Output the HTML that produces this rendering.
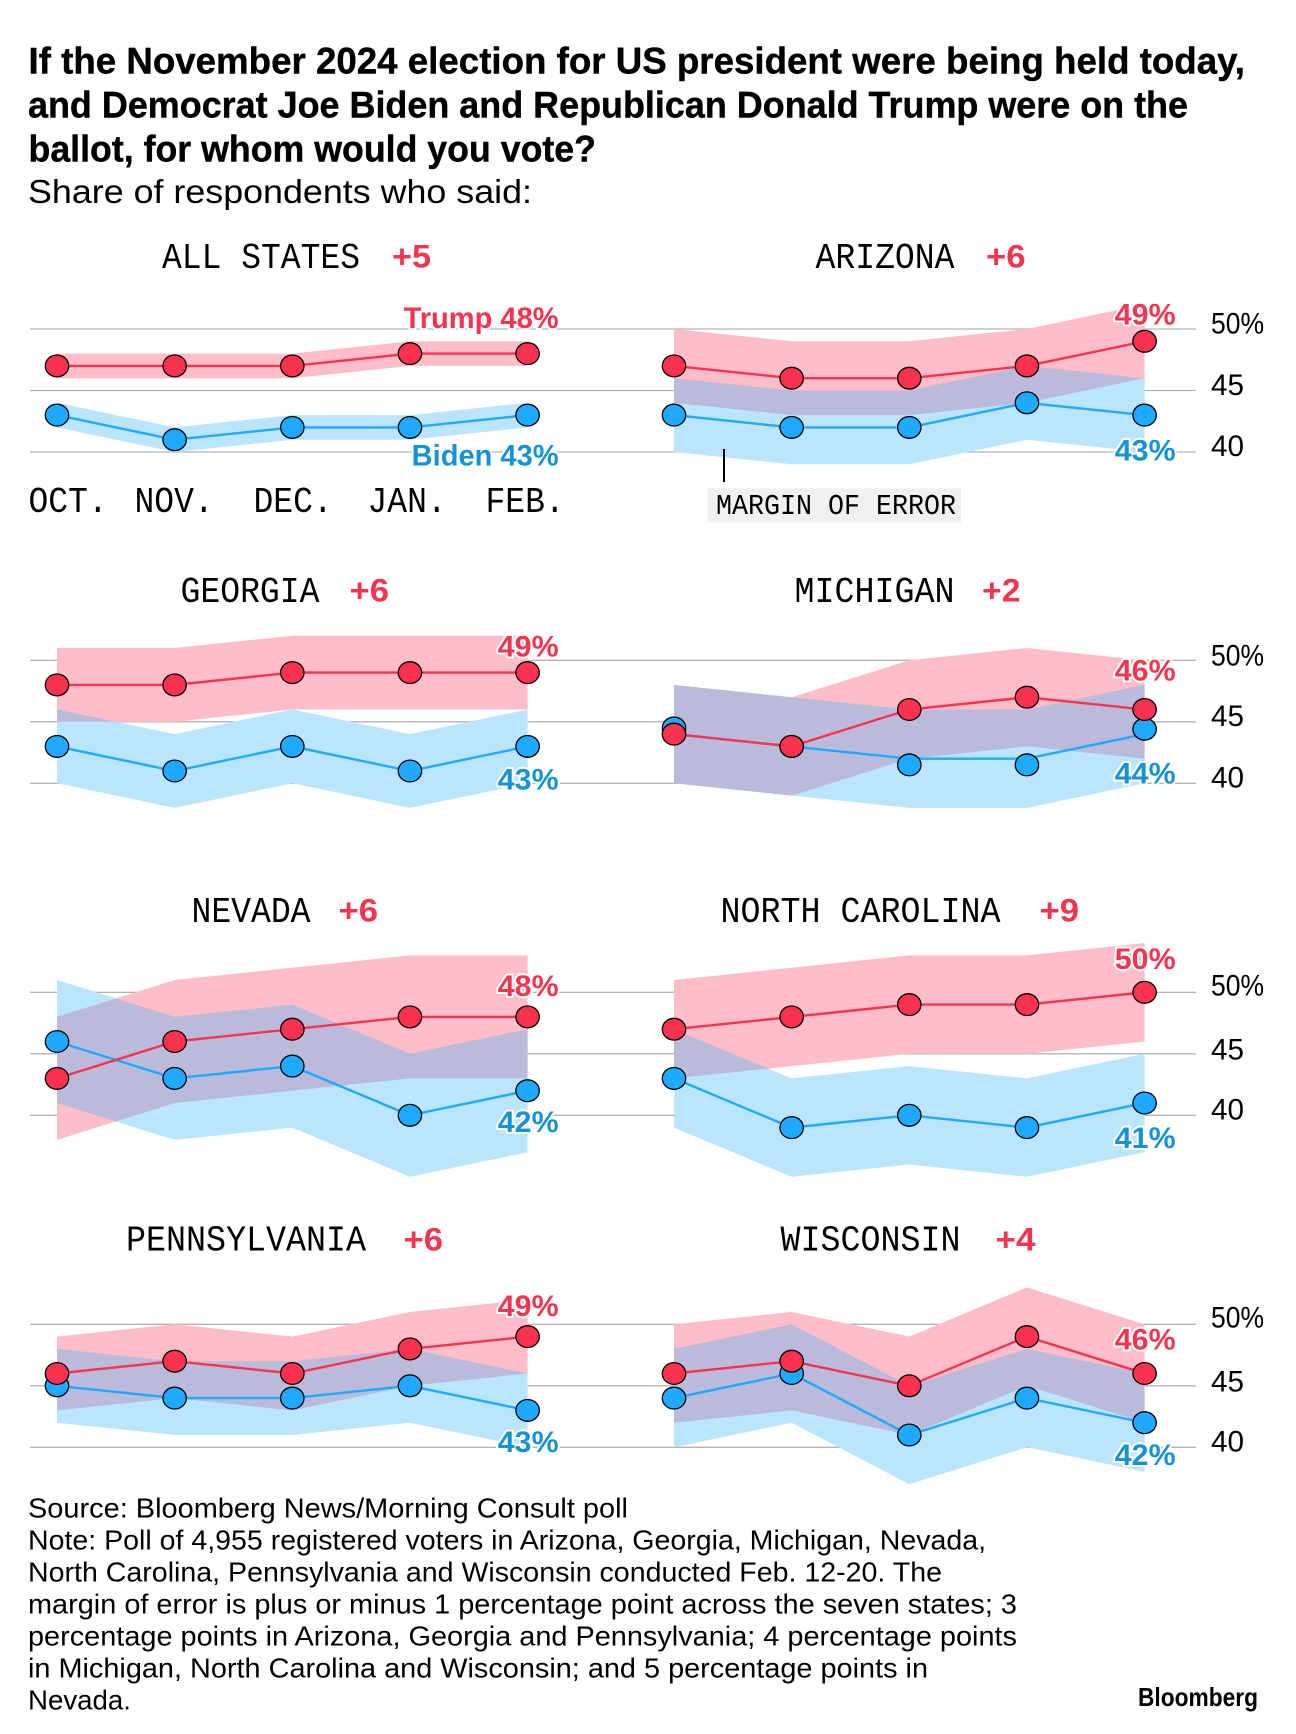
<!DOCTYPE html>
<html lang="en">
<head>
<meta charset="utf-8">
<title>Bloomberg News/Morning Consult poll: Biden vs Trump</title>
<style>
html,body{margin:0;padding:0;background:#fff;}
svg{display:block;}
text{font-family:"Liberation Sans",Arial,sans-serif;fill:#000;}
.title{font-size:37px;font-weight:700;stroke:#000;stroke-width:0.4px;}
.sub{font-size:33px;}
.mono{font-family:"Liberation Mono",monospace;font-size:36px;}
.delta{font-size:32px;font-weight:700;fill:#f5344f;}
.foot{font-size:27.5px;}
</style>
</head>
<body>
<svg id="chart" xmlns="http://www.w3.org/2000/svg" width="1296" height="1734" viewBox="0 0 1296 1734">
  <rect x="0" y="0" width="1296" height="1734" fill="#fff"/>
  <g>
    <text class="title" x="28.5" y="73.3" textLength="1216.5" lengthAdjust="spacingAndGlyphs">If the November 2024 election for US president were being held today,</text>
    <text class="title" x="28" y="117.5" textLength="1160" lengthAdjust="spacingAndGlyphs">and Democrat Joe Biden and Republican Donald Trump were on the</text>
    <text class="title" x="28.5" y="161.5" textLength="567.5" lengthAdjust="spacingAndGlyphs">ballot, for whom would you vote?</text>
  </g>
  <text class="sub" x="28" y="203" textLength="504" lengthAdjust="spacingAndGlyphs">Share of respondents who said:</text>

  <g id="grid"></g>
  <g id="panels"></g>
  <g id="ticks"></g>
  <g id="months"></g>

  <text class="mono" x="162" y="268" textLength="198" lengthAdjust="spacingAndGlyphs">ALL STATES</text>
  <text class="delta" x="392" y="267.5" textLength="39" lengthAdjust="spacingAndGlyphs">+5</text>
  <text class="mono" x="815.5" y="268" textLength="139" lengthAdjust="spacingAndGlyphs">ARIZONA</text>
  <text class="delta" x="986" y="267.5" textLength="39.5" lengthAdjust="spacingAndGlyphs">+6</text>
  <text class="mono" x="180.5" y="602" textLength="139" lengthAdjust="spacingAndGlyphs">GEORGIA</text>
  <text class="delta" x="349.5" y="601.5" textLength="39.5" lengthAdjust="spacingAndGlyphs">+6</text>
  <text class="mono" x="794.5" y="602" textLength="160" lengthAdjust="spacingAndGlyphs">MICHIGAN</text>
  <text class="delta" x="982" y="601.5" textLength="38.5" lengthAdjust="spacingAndGlyphs">+2</text>
  <text class="mono" x="191.5" y="922" textLength="119" lengthAdjust="spacingAndGlyphs">NEVADA</text>
  <text class="delta" x="338.5" y="921.5" textLength="39.5" lengthAdjust="spacingAndGlyphs">+6</text>
  <text class="mono" x="720.5" y="922" textLength="280" lengthAdjust="spacingAndGlyphs">NORTH CAROLINA</text>
  <text class="delta" x="1039.5" y="921.5" textLength="39.5" lengthAdjust="spacingAndGlyphs">+9</text>
  <text class="mono" x="126" y="1250.7" textLength="240" lengthAdjust="spacingAndGlyphs">PENNSYLVANIA</text>
  <text class="delta" x="403.5" y="1250.3" textLength="39.5" lengthAdjust="spacingAndGlyphs">+6</text>
  <text class="mono" x="780.5" y="1250.7" textLength="180" lengthAdjust="spacingAndGlyphs">WISCONSIN</text>
  <text class="delta" x="995.5" y="1250.3" textLength="40" lengthAdjust="spacingAndGlyphs">+4</text>

  <line x1="724" y1="449" x2="724" y2="482" stroke="#000" stroke-width="2"/>
  <rect x="707.5" y="488.3" width="253.5" height="34" fill="#f0f0f0"/>
  <text style="font-family:'Liberation Mono',monospace;font-size:28.5px" x="716" y="514" textLength="240" lengthAdjust="spacingAndGlyphs">MARGIN OF ERROR</text>

  <g>
    <text class="foot" x="28" y="1517.5" textLength="600" lengthAdjust="spacingAndGlyphs">Source: Bloomberg News/Morning Consult poll</text>
    <text class="foot" x="28" y="1549.7" textLength="958" lengthAdjust="spacingAndGlyphs">Note: Poll of 4,955 registered voters in Arizona, Georgia, Michigan, Nevada,</text>
    <text class="foot" x="28" y="1581.7" textLength="914" lengthAdjust="spacingAndGlyphs">North Carolina, Pennsylvania and Wisconsin conducted Feb. 12-20. The</text>
    <text class="foot" x="28" y="1613.7" textLength="989" lengthAdjust="spacingAndGlyphs">margin of error is plus or minus 1 percentage point across the seven states; 3</text>
    <text class="foot" x="28" y="1645.7" textLength="989" lengthAdjust="spacingAndGlyphs">percentage points in Arizona, Georgia and Pennsylvania; 4 percentage points</text>
    <text class="foot" x="28" y="1677.7" textLength="900" lengthAdjust="spacingAndGlyphs">in Michigan, North Carolina and Wisconsin; and 5 percentage points in</text>
    <text class="foot" x="28" y="1709.7" textLength="103" lengthAdjust="spacingAndGlyphs">Nevada.</text>
  </g>
  <text x="1138" y="1706" style="font-size:26px;font-weight:700" textLength="120" lengthAdjust="spacingAndGlyphs">Bloomberg</text>
</svg>
<script>
const monthLabels = ['OCT.', 'NOV.', 'DEC.', 'JAN.', 'FEB.'];
const yTicks = [50, 45, 40];

const trumpAllStates = [47, 47, 47, 48, 48];
const bidenAllStates = [43, 41, 42, 42, 43];
const marginAllStates = 1;

const trumpArizona = [47, 46, 46, 47, 49];
const bidenArizona = [43, 42, 42, 44, 43];
const marginArizona = 3;

const trumpGeorgia = [48, 48, 49, 49, 49];
const bidenGeorgia = [43, 41, 43, 41, 43];
const marginGeorgia = 3;

const trumpMichigan = [44, 43, 46, 47, 46];
const bidenMichigan = [44, 43, 42, 42, 44];
const bidenMarkersMichigan = [44.5, 43, 41.5, 41.5, 44.4];
const marginMichigan = 4;

const trumpNevada = [43, 46, 47, 48, 48];
const bidenNevada = [46, 43, 44, 40, 42];
const marginNevada = 5;

const trumpNorthCarolina = [47, 48, 49, 49, 50];
const bidenNorthCarolina = [43, 39, 40, 39, 41];
const marginNorthCarolina = 4;

const trumpPennsylvania = [46, 47, 46, 48, 49];
const bidenPennsylvania = [45, 44, 44, 45, 43];
const marginPennsylvania = 3;

const trumpWisconsin = [46, 47, 45, 49, 46];
const bidenWisconsin = [44, 46, 41, 44, 42];
const marginWisconsin = 4;

const panels = [
  {slug: 'all-states', trump: trumpAllStates, biden: bidenAllStates, moe: marginAllStates, col: 0, row: 0, tDy: -25.4, bDy: 50.3, names: true},
  {slug: 'arizona', trump: trumpArizona, biden: bidenArizona, moe: marginArizona, col: 1, row: 0, tDy: -16.6, bDy: 45.3},
  {slug: 'georgia', trump: trumpGeorgia, biden: bidenGeorgia, moe: marginGeorgia, col: 0, row: 1, tDy: -16, bDy: 43.3},
  {slug: 'michigan', trump: trumpMichigan, biden: bidenMichigan, markers: bidenMarkersMichigan, moe: marginMichigan, col: 1, row: 1, tDy: -29, bDy: 49.3},
  {slug: 'nevada', trump: trumpNevada, biden: bidenNevada, moe: marginNevada, col: 0, row: 2, tDy: -21, bDy: 41.3},
  {slug: 'north-carolina', trump: trumpNorthCarolina, biden: bidenNorthCarolina, moe: marginNorthCarolina, col: 1, row: 2, tDy: -23.4, bDy: 45},
  {slug: 'pennsylvania', trump: trumpPennsylvania, biden: bidenPennsylvania, moe: marginPennsylvania, col: 0, row: 3, tDy: -20.6, bDy: 41.5},
  {slug: 'wisconsin', trump: trumpWisconsin, biden: bidenWisconsin, moe: marginWisconsin, col: 1, row: 3, tDy: -24.2, bDy: 42.3}
];

const NS = 'http://www.w3.org/2000/svg';
const colX = [57, 674];
const rowY50 = [329, 660.3, 992.3, 1324.3];
const xStep = 117.65;
const unit = 12.3;
const RED = '#f9334f';
const BLUE = '#1eaaff';
const RED_TXT = '#f5344f';
const BLUE_TXT = '#1592d4';

function xScale(col, i) { return colX[col] + i * xStep; }
function yScale(row, v) { return rowY50[row] + (50 - v) * unit; }
function make(tag, attrs, parent) {
  const el = document.createElementNS(NS, tag);
  Object.keys(attrs).forEach(function (k) { el.setAttribute(k, attrs[k]); });
  parent.appendChild(el);
  return el;
}
function bandPoints(p, values) {
  const up = values.map(function (v, i) { return xScale(p.col, i) + ',' + yScale(p.row, v + p.moe); });
  const down = values.map(function (v, i) { return xScale(p.col, i) + ',' + yScale(p.row, v - p.moe); }).reverse();
  return up.concat(down).join(' ');
}
function linePoints(p, values) {
  return values.map(function (v, i) { return xScale(p.col, i) + ',' + yScale(p.row, v); }).join(' ');
}
function tickNudge(row, t) {
  if (t === 50 && row >= 2) return 3;
  if (t === 50 && row === 1) return 5;
  if (t === 45 && row === 1) return 4;
  if (t === 45 && row >= 2) return 5.5;
  if (t === 40) return 4;
  return 4.5;
}

const gridG = document.getElementById('grid');
const panelsG = document.getElementById('panels');
const ticksG = document.getElementById('ticks');
const monthsG = document.getElementById('months');

rowY50.forEach(function (y50, row) {
  yTicks.forEach(function (t) {
    const line = make('line', {x1: 30, x2: 1196, y1: yScale(row, t), y2: yScale(row, t), stroke: '#b4b4b4', 'stroke-width': 1.3}, gridG);
    
    
    const label = make('text', {x: 1211, y: yScale(row, t) + tickNudge(row, t), 'text-anchor': 'start', 'font-size': 30}, ticksG);
    
    
    label.textContent = t === 50 ? t + '%' : String(t);
    label.setAttribute('textLength', t === 50 ? 53 : 33);
    label.setAttribute('lengthAdjust', 'spacingAndGlyphs');
  });
});

const monthLeft = [28.5, 134.5, 253.5, 367.5, 485.5];
monthLabels.forEach(function (m, i) {
  const t = make('text', {x: monthLeft[i], y: 512, 'class': 'mono', textLength: 79.2, lengthAdjust: 'spacingAndGlyphs'}, monthsG);
  
  
  t.textContent = m;
});

panels.forEach(function (p) {
  const g = make('g', {}, panelsG);
  
  

  const maskT = make('polygon', {points: bandPoints(p, p.trump), fill: '#fff'}, g);
  
  
  const maskB = make('polygon', {points: bandPoints(p, p.biden), fill: '#fff'}, g);
  
  

  const bandT = make('polygon', {points: bandPoints(p, p.trump), fill: '#fb3355', 'fill-opacity': 0.32}, g);
  
  
  const bandB = make('polygon', {points: bandPoints(p, p.biden), fill: '#3db5fc', 'fill-opacity': 0.35}, g);
  
  

  const lineB = make('polyline', {points: linePoints(p, p.biden), fill: 'none', stroke: BLUE, 'stroke-width': 2.4}, g);
  
  
  const lineT = make('polyline', {points: linePoints(p, p.trump), fill: 'none', stroke: RED, 'stroke-width': 2.4}, g);
  
  

  (p.markers || p.biden).forEach(function (v, i) {
    const dot = make('ellipse', {cx: xScale(p.col, i), cy: yScale(p.row, v), rx: 11.7, ry: 10.9, fill: BLUE, stroke: '#000', 'stroke-width': 1.3}, g);
    
    
  });
  p.trump.forEach(function (v, i) {
    const dot = make('ellipse', {cx: xScale(p.col, i), cy: yScale(p.row, v), rx: 11.7, ry: 10.9, fill: RED, stroke: '#000', 'stroke-width': 1.3}, g);
    
    
  });

  const right = xScale(p.col, 4) + 31;
  const lastT = p.trump[p.trump.length - 1];
  const lastB = p.biden[p.biden.length - 1];
  const series = [
    {name: 'trump', prefix: 'Trump ', v: lastT, dy: p.tDy, color: RED_TXT},
    {name: 'biden', prefix: 'Biden ', v: lastB, dy: p.bDy, color: BLUE_TXT}
  ];
  series.forEach(function (s) {
    const t = make('text', {
      x: right, y: yScale(p.row, s.v) + s.dy, 'text-anchor': 'end',
      'font-size': 29.5, 'font-weight': 700,
      stroke: '#fff', 'stroke-width': 4, 'stroke-linejoin': 'round',
      style: 'paint-order:stroke;fill:' + s.color
    }, g);
    
    
    t.textContent = (p.names ? s.prefix : '') + s.v + '%';
    const w = t.getComputedTextLength() * (p.names ? 0.985 : 1.03);
    t.setAttribute('textLength', w);
    t.setAttribute('lengthAdjust', 'spacingAndGlyphs');
  });
});
</script>
</body>
</html>
